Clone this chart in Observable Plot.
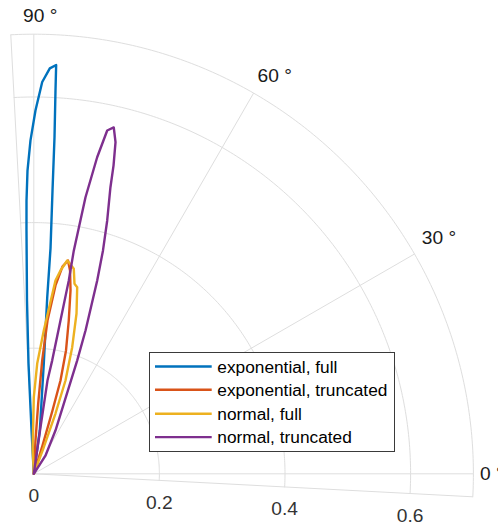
<!DOCTYPE html>
<html><head><meta charset="utf-8">
<script src="https://cdn.jsdelivr.net/npm/d3@7"></script>
<script src="https://cdn.jsdelivr.net/npm/@observablehq/plot@0.6"></script>
<style>
html,body{margin:0;padding:0;background:#fff;}
#chart{position:relative;width:498px;height:526px;font-family:"Liberation Sans",Arial,sans-serif;}
#chart svg{display:block;}
</style></head><body><div id="chart"></div>
<script>
// ---- data (theta in degrees, r) ----
const categories = ["exponential, full", "exponential, truncated", "normal, full", "normal, truncated"];
const colors = ["#0072BD", "#D95319", "#EDB120", "#7E2F8E"];

const expFullTheta = [90, 93.0, 92.75, 92.25, 91.72, 91.53, 91.19, 90.57, 89.73, 88.77, 87.74, 86.87, 86.76, 86.48, 86.22, 85.76, 85.65, 84.82, 82.1, 90];
const expFullR     = [0, 0.069, 0.176, 0.276, 0.388, 0.435, 0.483, 0.531, 0.579, 0.624, 0.646, 0.652, 0.611, 0.537, 0.452, 0.360, 0.282, 0.176, 0.0696, 0];

const expTruncTheta = [85, 87.08, 86.42, 85.76, 84.89, 83.43, 82.12, 80.89, 79.90, 78.68, 77.14, 75.36, 74.03, 73.54, 72.9, 85];
const expTruncR     = [0, 0.0531, 0.1121, 0.181, 0.245, 0.302, 0.333, 0.344, 0.329, 0.298, 0.250, 0.203, 0.1545, 0.105, 0.047, 0];

const normFullTheta = [85, 92.5, 90.0, 88.23, 86.01, 83.6, 82.52, 81.1, 80.61, 78.96, 77.91, 76.91, 75.08, 73.13, 71.24, 70.21, 69.4, 85];
const normFullR     = [0, 0.0424, 0.122, 0.1757, 0.2287, 0.3097, 0.3265, 0.3438, 0.3415, 0.3326, 0.3094, 0.3051, 0.2642, 0.2107, 0.1569, 0.1020, 0.0452, 0];

const normTruncTheta = [80, 81.85, 81.65, 80.78, 80.12, 79.74, 79.84, 79.41, 78.68, 77.93, 77.0, 76.16, 75.5, 75.02, 73.84, 72.78, 71.84, 70.16, 69.04, 63.4, 57.4, 80];
const normTruncR     = [0, 0.0697, 0.150, 0.183, 0.248, 0.313, 0.361, 0.448, 0.514, 0.559, 0.566, 0.544, 0.507, 0.472, 0.420, 0.372, 0.324, 0.243, 0.193, 0.077, 0.035, 0];

const rTicks = [0, 0.2, 0.4, 0.6];
const rTickLabels = ["0", "0.2", "0.4", "0.6"];
const rMax = 0.7;
const thetaTicks = [0, 30, 60, 90];
const thetaTickLabels = ["0 °", "30 °", "60 °", "90 °"];
const thetaLim = [-3, 93];

// ---- layout ----
const W = 498, H = 526, OX = 33.3, OY = 473.3, S = 628;
const thetaLabelOffset = {0: [6.5, 0, "start"], 30: [7.2, -16, "start"], 60: [3.9, -17.3, "start"], 90: [-10.7, -18, "start"]};

const rad = d => d * Math.PI / 180;
const series = [
  [expFullTheta, expFullR], [expTruncTheta, expTruncR],
  [normFullTheta, normFullR], [normTruncTheta, normTruncR]
].map(([t, r], i) => t.map((th, j) => ({series: categories[i], x: r[j] * Math.cos(rad(th)), y: r[j] * Math.sin(rad(th))})));

const gridColor = "#dedede";
const arcPts = [];
for (const r of [...rTicks.filter(d => d > 0), rMax]) {
  for (let t = thetaLim[0]; t <= thetaLim[1] + 1e-9; t += 0.5) arcPts.push({r, x: r * Math.cos(rad(t)), y: r * Math.sin(rad(t))});
}
const spokes = [thetaLim[0], ...thetaTicks, thetaLim[1]];

const marks = [
  Plot.line(arcPts, {x: "x", y: "y", z: "r", stroke: gridColor, strokeWidth: 1}),
  Plot.link(spokes, {x1: () => 0, y1: () => 0, x2: d => rMax * Math.cos(rad(d)), y2: d => rMax * Math.sin(rad(d)), stroke: gridColor, strokeWidth: 1}),
];
series.forEach((s, i) => marks.push(Plot.line(s, {x: "x", y: "y", stroke: colors[i], strokeWidth: 2.4, strokeLinejoin: "round"})));
marks.push(Plot.text(rTicks.map((r, i) => ({r, label: rTickLabels[i]})), {
  x: d => d.r * Math.cos(rad(thetaLim[0])), y: d => d.r * Math.sin(rad(thetaLim[0])),
  text: "label", dy: 22, fontSize: 19.2, fill: "#333", textAnchor: "middle", lineAnchor: "middle"
}));
thetaTicks.forEach((t, i) => {
  const [dx, dy, anchor] = thetaLabelOffset[t];
  marks.push(Plot.text([t], {
    x: d => rMax * Math.cos(rad(d)), y: d => rMax * Math.sin(rad(d)),
    text: () => thetaTickLabels[i], dx, dy, textAnchor: anchor, lineAnchor: "middle",
    fontSize: 19.2, fill: "#1a1a1a"
  }));
});

const chart = Plot.plot({
  width: W, height: H, margin: 0,
  x: {domain: [-OX / S, (W - OX) / S], range: [0, W], axis: null},
  y: {domain: [-(H - OY) / S, OY / S], range: [H, 0], axis: null},
  style: {fontFamily: '"Liberation Sans", Arial, sans-serif', background: "#fff", overflow: "visible"},
  marks
});
const root = document.getElementById("chart");
root.appendChild(chart);

// ---- legend (overlay) ----
const leg = {left: 149, top: 352.7, width: 245, height: 99, lineX1: 6, lineX2: 62.7, textX: 68.3, rowY: [14, 37.3, 61.3, 84.6]};
const lsvg = d3.select(root).append("svg")
  .attr("width", leg.width + 1).attr("height", leg.height + 1)
  .style("position", "absolute").style("left", (leg.left - 0.5) + "px").style("top", (leg.top - 0.5) + "px");
lsvg.append("rect").attr("x", 0.5).attr("y", 0.5).attr("width", leg.width).attr("height", leg.height)
  .attr("fill", "#fff").attr("stroke", "#3a3a3a").attr("stroke-width", 1);
categories.forEach((c, i) => {
  const y = leg.rowY[i] + 0.5;
  lsvg.append("line").attr("x1", leg.lineX1).attr("x2", leg.lineX2).attr("y1", y).attr("y2", y)
    .attr("stroke", colors[i]).attr("stroke-width", 2.4);
  lsvg.append("text").attr("x", leg.textX).attr("y", y).attr("dy", "0.35em")
    .attr("font-family", '"Liberation Sans", Arial, sans-serif').attr("font-size", 17.3).attr("fill", "#000").text(c);
});
</script></body></html>
